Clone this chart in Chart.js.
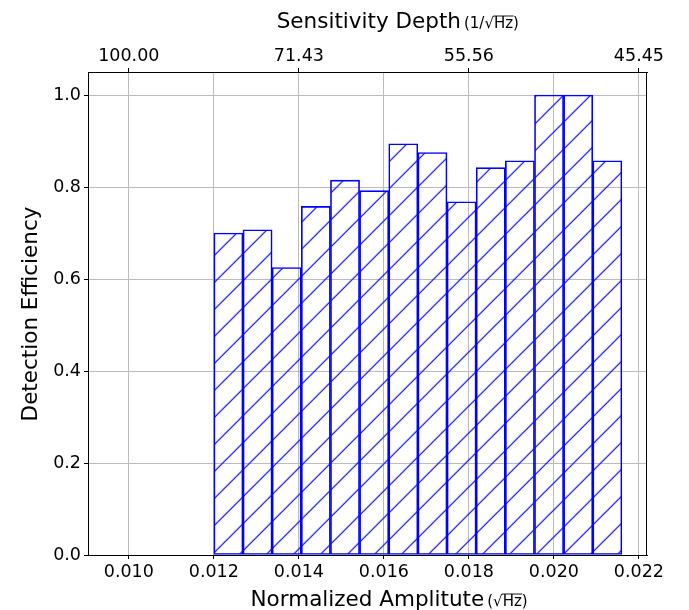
<!DOCTYPE html>
<html>
<head>
<meta charset="utf-8">
<script src="https://cdn.jsdelivr.net/npm/chart.js@4.4.1/dist/chart.umd.min.js"></script>
<style>html,body{margin:0;padding:0;background:#fff}</style>
</head>
<body>
<canvas id="chart" width="689" height="610"></canvas>
<script>
// histogram bins (normalized amplitude) and detection efficiency per bin
const binEdges = [0.012000, 0.012686, 0.013371, 0.014057, 0.014743, 0.015429, 0.016114, 0.016800,
                  0.017486, 0.018171, 0.018857, 0.019543, 0.020229, 0.020914, 0.021600];
const efficiency = [0.700, 0.707, 0.625, 0.758, 0.815, 0.792, 0.894, 0.875, 0.768, 0.842, 0.857, 1.000, 1.000, 0.857];
const ampTicks = [0.010, 0.012, 0.014, 0.016, 0.018, 0.020, 0.022];
const depthTicks = [0.010, 0.014, 0.018, 0.022];
const depthLabels = ["100.00", "71.43", "55.56", "45.45"];
const effTicks = [0.0, 0.2, 0.4, 0.6, 0.8, 1.0];

const FONT = "'DejaVu Sans', sans-serif";
const BLUE = "#0000ff";

function hatch() {
  const T = 27;
  const c = document.createElement("canvas");
  c.width = T; c.height = T;
  const g = c.getContext("2d");
  g.strokeStyle = BLUE; g.lineWidth = 1.2;
  g.beginPath();
  g.moveTo(-2, T + 2); g.lineTo(T + 2, -2);
  g.moveTo(-2, 2); g.lineTo(2, -2);
  g.moveTo(T - 2, T + 2); g.lineTo(T + 2, T - 2);
  g.stroke();
  const p = document.getElementById("chart").getContext("2d").createPattern(c, "repeat");
  p.setTransform(new DOMMatrix([1, 0, 0, 1, 10.7, 0]));
  return p;
}

const points = efficiency.map((v, i) => ({ x: (binEdges[i] + binEdges[i + 1]) / 2, y: v }));

function sqrtHz(ctx, x, y, size) {
  ctx.fillText("\u221A", x, y);
  const w = ctx.measureText("\u221A").width;
  const hz = ctx.measureText("Hz").width;
  ctx.fillText("Hz", x + w, y);
  ctx.save();
  ctx.lineWidth = 0.9;
  ctx.beginPath();
  ctx.moveTo(x + w - 0.5, y - size * 0.80);
  ctx.lineTo(x + w + hz + 0.5, y - size * 0.80);
  ctx.stroke();
  ctx.restore();
  return x + w + hz;
}

const labels = {
  id: "labels",
  afterDraw(chart) {
    const { ctx, chartArea: a } = chart;
    ctx.save();
    ctx.strokeStyle = "#000"; ctx.lineWidth = 1;
    const r = Math.round(a.right) - 0.5;
    ctx.beginPath(); ctx.moveTo(r, a.top); ctx.lineTo(r, a.bottom); ctx.stroke();

    ctx.fillStyle = "#000";
    ctx.textAlign = "left"; ctx.textBaseline = "alphabetic";
    // top title
    ctx.font = "21.5px " + FONT;
    ctx.fillText("Sensitivity Depth", 276.7, 28);
    let x = 276.7 + ctx.measureText("Sensitivity Depth").width + 3;
    ctx.font = "15px " + FONT;
    ctx.fillText("(1/", x, 28);
    x += ctx.measureText("(1/").width;
    x = sqrtHz(ctx, x, 28, 15);
    ctx.fillText(")", x, 28);
    // bottom title
    ctx.font = "21.5px " + FONT;
    ctx.fillText("Normalized Amplitute", 250.5, 606);
    x = 250.5 + ctx.measureText("Normalized Amplitute").width + 3;
    ctx.font = "15px " + FONT;
    ctx.fillText("(", x, 606);
    x += ctx.measureText("(").width;
    x = sqrtHz(ctx, x, 606, 15);
    ctx.fillText(")", x, 606);
    // y title
    ctx.font = "21.5px " + FONT;
    ctx.translate(36.5, 314);
    ctx.rotate(-Math.PI / 2);
    ctx.textAlign = "center";
    ctx.fillText("Detection Efficiency", 0, 0);
    ctx.restore();
  }
};

const tickFont = { family: FONT, size: 17.5 };
const gridCol = "#bcbcbc";

new Chart(document.getElementById("chart"), {
  type: "bar",
  data: {
    datasets: [{
      data: points,
      backgroundColor: hatch(),
      borderColor: BLUE,
      borderWidth: 1,
      borderSkipped: false,
      barPercentage: 1,
      categoryPercentage: 1,
      xAxisID: "x",
      yAxisID: "y"
    }]
  },
  options: {
    responsive: false,
    devicePixelRatio: 1,
    animation: false,
    layout: { padding: { left: 0, right: 42, top: 0, bottom: 0 } },
    plugins: { legend: { display: false }, tooltip: { enabled: false } },
    scales: {
      x: {
        type: "linear", position: "bottom", min: 0.00904, max: 0.02219, offset: false,
        afterBuildTicks: s => { s.ticks = ampTicks.map(v => ({ value: v })); },
        afterFit: s => { s.height = 55; },
        ticks: { font: tickFont, color: "#000", padding: 3, maxRotation: 0, autoSkip: false,
                 callback: v => v.toFixed(3) },
        grid: { color: gridCol, tickColor: "#000", tickLength: 4, offset: false },
        border: { color: "#000", width: 1 }
      },
      x2: {
        type: "linear", position: "top", min: 0.00904, max: 0.02219, offset: false,
        afterBuildTicks: s => { s.ticks = depthTicks.map(v => ({ value: v })); },
        afterFit: s => { s.height = 72; },
        ticks: { font: tickFont, color: "#000", padding: 1, maxRotation: 0, autoSkip: false,
                 callback: (v, i) => depthLabels[i] },
        grid: { drawOnChartArea: false, tickColor: "#000", tickLength: 4, offset: false },
        border: { color: "#000", width: 1 }
      },
      y: {
        min: 0, max: 1.05,
        afterBuildTicks: s => { s.ticks = effTicks.map(v => ({ value: v })); },
        afterFit: s => { s.width = 88; },
        ticks: { font: tickFont, color: "#000", padding: 3, callback: v => v.toFixed(1) },
        grid: { color: gridCol, tickColor: "#000", tickLength: 4 },
        border: { color: "#000", width: 1 }
      }
    }
  },
  plugins: [labels]
});
</script>
</body>
</html>
